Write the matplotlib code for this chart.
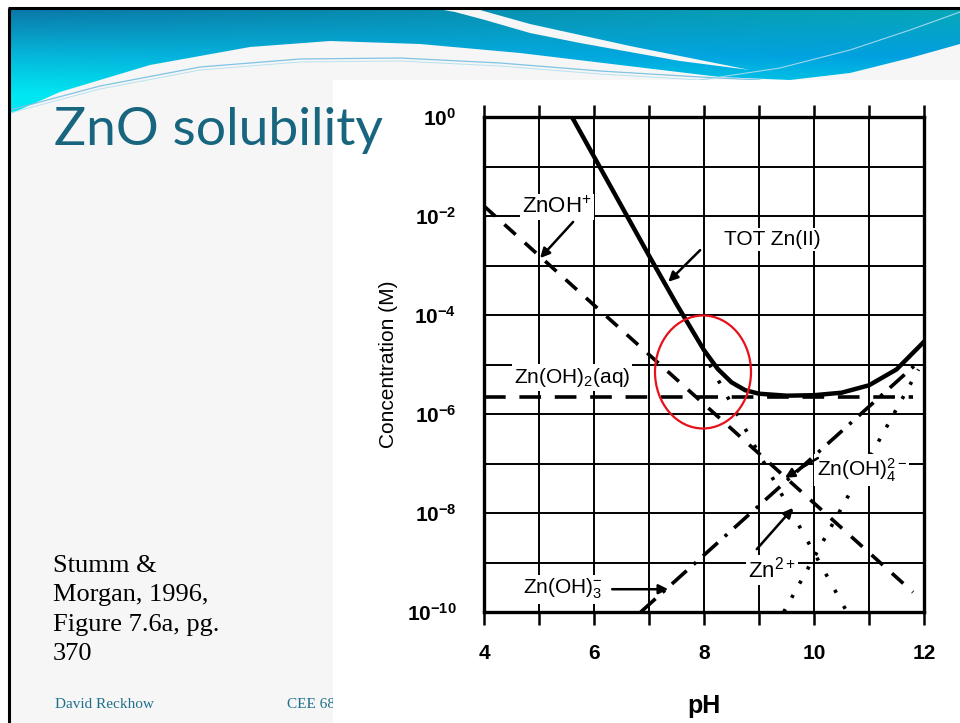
import numpy as np
import matplotlib
matplotlib.use('Agg')
import matplotlib.pyplot as plt
from matplotlib.patches import Polygon, Rectangle, Ellipse
from matplotlib.ticker import FixedLocator, FixedFormatter

# log10 concentration (M) vs pH
tot_ph = [5.6, 6.0, 6.5, 7.0, 7.5, 8.0, 8.25, 8.5, 8.75, 9.0, 9.5, 10.0, 10.5, 11.0, 11.5, 12.0]
tot_log = [0.0, -0.8, -1.8, -2.8, -3.78, -4.71, -5.09, -5.36, -5.52, -5.59, -5.63, -5.62, -5.57, -5.42, -5.10, -4.54]
zn_ph, zn_log = [8.1, 10.6], [-5.0, -10.0]
znoh_ph, znoh_log = [4.0, 11.8], [-1.8, -9.6]
znoh2_ph, znoh2_log = [4.0, 11.8], [-5.65, -5.65]
znoh3_ph, znoh3_log = [6.85, 11.9], [-10.0, -4.95]
znoh4_ph, znoh4_log = [9.45, 11.9], [-10.0, -5.1]

x_ticks = [4, 5, 6, 7, 8, 9, 10, 11, 12]
x_labels = ['4', '', '6', '', '8', '', '10', '', '12']
y_exps = [0, -1, -2, -3, -4, -5, -6, -7, -8, -9, -10]

plt.rcParams['font.family'] = ['Liberation Sans', 'DejaVu Sans']
plt.rcParams['mathtext.fontset'] = 'custom'
plt.rcParams['mathtext.rm'] = 'Liberation Sans'
plt.rcParams['mathtext.bf'] = 'Liberation Sans:bold'
plt.rcParams['mathtext.default'] = 'regular'

fig = plt.figure(figsize=(9.6, 7.23), dpi=100)

# ---- slide background (pixel coordinates) ----
bg = fig.add_axes([0, 0, 1, 1], zorder=0)
bg.set_xlim(0, 960)
bg.set_ylim(723, 0)
bg.axis('off')

bg.add_patch(Rectangle((10, 9), 950, 714, fc='#f6f6f6', ec='none', zorder=1))

# header wave with a gradient
H, W = 110, 200
yy, xx = np.mgrid[0:H, 0:W]
t = np.clip(yy / 85.0, 0, 1)[..., None]
s = (xx / (W - 1.0))[..., None]
top = (1 - s) * np.array([0.04, 0.47, 0.66]) + s * np.array([0.03, 0.66, 0.72])
mid = (1 - s) * np.array([0.02, 0.72, 0.86]) + s * np.array([0.0, 0.62, 0.88])
bot = (1 - s) * np.array([0.0, 0.91, 0.95]) + s * np.array([0.0, 0.80, 0.90])
grad = np.where(t < 0.55, top + (mid - top) * (t / 0.55), mid + (bot - mid) * ((t - 0.55) / 0.45))
im = bg.imshow(grad, extent=(10, 960, 119, 9), aspect='auto', zorder=2)
wave = Polygon([(10, 9), (960, 9), (960, 44), (910, 58), (850, 73), (790, 80), (720, 77),
                (620, 65), (520, 53), (420, 44), (330, 41), (250, 47), (150, 65),
                (60, 92), (10, 114)], closed=True, fc='none', ec='none',
               transform=bg.transData)
bg.add_patch(wave)
im.set_clip_path(wave)

streak = Polygon([(438, 9), (480, 10), (530, 24), (580, 35), (630, 46), (680, 56), (750, 70),
                  (680, 61), (630, 52), (580, 43), (530, 33), (485, 20), (455, 12)],
                 closed=True, fc='#f6f6f6', ec='none', zorder=3)
bg.add_patch(streak)
bg.plot([10, 100, 200, 300, 400, 500, 600, 700, 760],
        [110, 86, 67, 59, 58, 63, 71, 77, 80], color='#7fc4e4', lw=0.9, zorder=3)
bg.plot([10, 100, 200, 300, 400, 500, 600, 700, 760],
        [113, 89, 70, 62, 61, 66, 74, 80, 82], color='#b9e2f0', lw=0.7, zorder=3)
bg.plot([700, 780, 850, 910, 960], [80, 68, 50, 30, 12], color='#9fd8ec', lw=0.8, zorder=3)

# slide frame
bg.plot([8, 960], [8, 8], color='black', lw=2.2, zorder=4, solid_capstyle='butt')
bg.plot([9, 9], [8, 723], color='black', lw=2.2, zorder=4, solid_capstyle='butt')

# pasted scan area
bg.add_patch(Rectangle((333, 80), 627, 643, fc='white', ec='none', zorder=6))

bg.text(54, 130, 'ZnO solubility', fontsize=38.5, color='#17657e', family='Lato',
        ha='left', va='center', zorder=7)
bg.text(53, 610, 'Stumm &\nMorgan, 1996,\nFigure 7.6a, pg.\n370', fontsize=19,
        family='Liberation Serif', color='black', ha='left', va='center',
        linespacing=1.42, zorder=7)
bg.text(55, 704, 'David Reckhow', fontsize=11, family='Liberation Serif',
        color='#1f6f8b', ha='left', va='center', zorder=5)
bg.text(287, 704, 'CEE 680', fontsize=11, family='Liberation Serif',
        color='#1f6f8b', ha='left', va='center', zorder=5)

# ---- the chart ----
ax = fig.add_axes([484 / 960, 1 - 612 / 723, 440 / 960, 495 / 723], zorder=2)
ax.patch.set_alpha(0)
ax.set_yscale('log')
ax.set_xlim(4, 12)
ax.set_ylim(1e-10, 1)

lw_curve = 2.6
ax.plot(tot_ph, 10 ** np.array(tot_log), color='black', lw=3.2, solid_joinstyle='round', zorder=5)
ax.plot(znoh_ph, 10 ** np.array(znoh_log), color='black', lw=lw_curve, ls=(0, (4.2, 3.4)), zorder=4)
ax.plot(znoh2_ph, 10 ** np.array(znoh2_log), color='black', lw=lw_curve, ls=(0, (6.0, 3.8)), zorder=4)
ax.plot(zn_ph, 10 ** np.array(zn_log), color='black', lw=lw_curve, ls=(0, (0.9, 4.2)), zorder=4)
ax.plot(znoh3_ph, 10 ** np.array(znoh3_log), color='black', lw=lw_curve,
        ls=(0, (5.5, 2.6, 0.9, 2.6)), zorder=4)
ax.plot(znoh4_ph, 10 ** np.array(znoh4_log), color='black', lw=lw_curve, ls=(0, (0.9, 3.6)), zorder=4)

ax.xaxis.set_major_locator(FixedLocator(x_ticks))
ax.xaxis.set_major_formatter(FixedFormatter(x_labels))
ax.yaxis.set_major_locator(FixedLocator([10.0 ** e for e in y_exps]))
ax.yaxis.set_major_formatter(FixedFormatter(
    [r'$\mathbf{10^{%d}}$' % e if e % 2 == 0 else '' for e in y_exps]))
ax.yaxis.set_minor_locator(FixedLocator([]))
ax.grid(True, color='black', lw=1.4)
ax.set_axisbelow(True)
ax.tick_params(axis='x', which='major', direction='out', length=9, width=1.8,
               top=True, labeltop=False, pad=14, labelsize=15)
for lab in ax.get_xticklabels():
    lab.set_fontweight('bold')
ax.tick_params(axis='y', which='both', length=0, pad=20, labelsize=15)
for sp in ax.spines.values():
    sp.set_linewidth(2.4)

ax.set_ylabel('Concentration (M)', fontsize=15, labelpad=6)
ax.set_xlabel('pH', fontsize=18, fontweight='bold', labelpad=22)

box = dict(fc='white', ec='none', pad=1.5)
arrow = dict(arrowstyle='-|>', color='black', lw=1.8, mutation_scale=14, shrinkA=0, shrinkB=0)
ax.text(5.32, 10 ** -1.82, 'ZnOH$^{+}$', fontsize=16, ha='center', va='center', bbox=box, zorder=6)
ax.annotate('', xy=(5.02, 10 ** -2.85), xytext=(5.62, 10 ** -2.12), arrowprops=arrow, zorder=6)
ax.text(9.25, 10 ** -2.48, 'TOT Zn(II)', fontsize=15, ha='center', va='center', bbox=box, zorder=6)
ax.annotate('', xy=(7.35, 10 ** -3.33), xytext=(7.93, 10 ** -2.69), arrowprops=arrow, zorder=6)
ax.text(5.6, 10 ** -5.27, 'Zn(OH)$_{2}$(aq)', fontsize=15, ha='center', va='center', bbox=box, zorder=6)
ax.text(10.87, 10 ** -7.13, 'Zn(OH)$_{4}^{2-}$', fontsize=15, ha='center', va='center', bbox=box, zorder=6)
ax.annotate('', xy=(9.47, 10 ** -7.29), xytext=(10.07, 10 ** -6.89), arrowprops=arrow, zorder=6)
ax.text(9.24, 10 ** -9.15, 'Zn$^{2+}$', fontsize=16, ha='center', va='center', bbox=box, zorder=6)
ax.annotate('', xy=(9.62, 10 ** -7.9), xytext=(8.96, 10 ** -8.73), arrowprops=arrow, zorder=6)
ax.text(5.44, 10 ** -9.54, 'Zn(OH)$_{3}^{-}$', fontsize=15, ha='center', va='center', bbox=box, zorder=6)
ax.annotate('', xy=(7.35, 10 ** -9.54), xytext=(6.33, 10 ** -9.54), arrowprops=arrow, zorder=6)

# red hand-drawn circle
ax.add_patch(Ellipse((703, 372), 96, 113, transform=bg.transData, fill=False,
                     ec='#e8101a', lw=1.6, clip_on=False, zorder=7))

plt.savefig('out.png', dpi=100)
